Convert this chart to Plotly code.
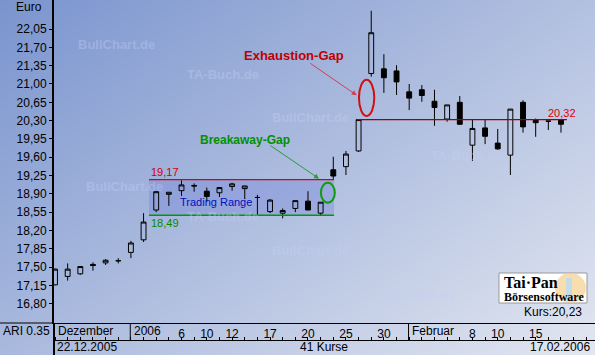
import base64, struct, zlib
import numpy as np
import plotly.graph_objects as go

# ---------------- data ----------------
dates = ["22.12.2005", "23.12.2005", "27.12.2005", "28.12.2005", "29.12.2005", "30.12.2005",
         "02.01.2006", "03.01.2006", "04.01.2006", "05.01.2006", "06.01.2006",
         "09.01.2006", "10.01.2006", "11.01.2006", "12.01.2006", "13.01.2006",
         "16.01.2006", "17.01.2006", "18.01.2006", "19.01.2006", "20.01.2006",
         "23.01.2006", "24.01.2006", "25.01.2006", "26.01.2006", "27.01.2006",
         "30.01.2006", "31.01.2006", "01.02.2006", "02.02.2006", "03.02.2006",
         "06.02.2006", "07.02.2006", "08.02.2006", "09.02.2006", "10.02.2006",
         "13.02.2006", "14.02.2006", "15.02.2006", "16.02.2006", "17.02.2006"]
open_ = [17.16, 17.32, 17.37, 17.55, 17.58, 17.62, 17.78, 18.02, 18.59, 18.89, 18.96,
         19.06, 18.95, 18.92, 19.04, 19.00, 18.83, 18.56, 18.53, 18.62, 18.76,
         18.53, 19.36, 19.42, 19.72, 21.20, 21.29, 21.25, 20.85, 20.89, 20.67,
         20.33, 20.65, 19.83, 20.16, 19.87, 19.64, 20.65, 20.31, 20.29, 20.31]
high = [17.47, 17.57, 17.52, 17.59, 17.65, 17.67, 18.00, 18.53, 18.95, 18.93, 19.16,
        19.10, 19.02, 19.03, 19.11, 19.05, 18.88, 18.80, 18.62, 18.77, 18.95,
        18.74, 19.61, 19.72, 20.32, 22.40, 21.57, 21.36, 21.00, 20.98, 20.89,
        20.60, 20.77, 20.33, 20.33, 20.14, 20.52, 20.69, 20.34, 20.29, 20.31]
low = [17.15, 17.24, 17.35, 17.43, 17.54, 17.57, 17.67, 17.98, 18.55, 18.67, 18.86,
       18.94, 18.75, 18.84, 18.96, 18.80, 18.48, 18.53, 18.43, 18.55, 18.59,
       18.49, 19.18, 19.26, 19.70, 21.14, 20.83, 20.79, 20.50, 20.66, 20.20,
       20.28, 20.22, 19.53, 19.85, 19.74, 19.26, 20.07, 19.99, 20.12, 20.07]
close = [17.46, 17.46, 17.51, 17.53, 17.63, 17.62, 17.96, 18.36, 18.94, 18.93, 19.07,
         19.05, 18.85, 19.02, 19.09, 19.05, 18.83, 18.78, 18.58, 18.77, 18.59,
         18.74, 19.24, 19.66, 20.32, 21.98, 21.12, 21.04, 20.73, 20.78, 20.55,
         20.60, 20.23, 20.15, 20.00, 19.76, 20.52, 20.18, 20.26, 20.29, 20.23]

y_ticks = [16.80, 17.15, 17.50, 17.85, 18.20, 18.55, 18.90, 19.25, 19.60, 19.95,
           20.30, 20.65, 21.00, 21.35, 21.70, 22.05]
day_labels = ["6", "10", "12", "17", "20", "25", "30", "8", "10", "15"]
day_label_dates = ["06.01.2006", "10.01.2006", "12.01.2006", "17.01.2006", "20.01.2006",
                   "25.01.2006", "30.01.2006", "08.02.2006", "10.02.2006", "15.02.2006"]
month_labels = ["Dezember", "2006", "Februar"]
month_start_dates = ["22.12.2005", "02.01.2006", "01.02.2006"]

range_high = 19.17
range_low = 18.49
range_first, range_last = "04.01.2006", "24.01.2006"
support_level = 20.32
breakaway_gap_after = "23.01.2006"
exhaustion_gap_after = "26.01.2006"
last_close = close[-1]

idx = list(range(len(dates)))
pos = {d: i for i, d in enumerate(dates)}

def fmt(v):
    return f"{v:.2f}".replace(".", ",")

# ---------------- geometry helpers (pixels -> paper) ----------------
W, H = 595, 355
ML, MR, MT, MB = 54, 0, 0, 15
PW, PH = W - ML - MR, H - MT - MB
PLOT_BOTTOM = 323

def px(x):
    return (x - ML) / PW

def py(y):
    return (H - MB - y) / PH

# ---------------- gradient background image ----------------
def gradient_png(w, h, c0, c1):
    xs = np.linspace(0, 1, w)[None, :]
    ys = np.linspace(0, 1, h)[:, None]
    t = (xs * 0.55 + ys * 0.45)
    img = np.zeros((h, w, 3), dtype=np.uint8)
    for k in range(3):
        img[:, :, k] = np.clip(np.round(c0[k] + (c1[k] - c0[k]) * t), 0, 255)
    raw = b"".join(b"\x00" + img[j].tobytes() for j in range(h))

    def chunk(tag, data):
        return struct.pack(">I", len(data)) + tag + data + struct.pack(">I", zlib.crc32(tag + data) & 0xffffffff)

    png = (b"\x89PNG\r\n\x1a\n" + chunk(b"IHDR", struct.pack(">IIBBBBB", w, h, 8, 2, 0, 0, 0))
           + chunk(b"IDAT", zlib.compress(raw, 9)) + chunk(b"IEND", b""))
    return "data:image/png;base64," + base64.b64encode(png).decode()

bg = gradient_png(W, H, (122, 148, 206), (226, 230, 240))

FONT = "Liberation Sans, Arial, sans-serif"

fig = go.Figure()
fig.add_trace(go.Candlestick(
    x=idx, open=open_, high=high, low=low, close=close,
    increasing=dict(line=dict(color="black", width=1), fillcolor="rgba(0,0,0,0)"),
    decreasing=dict(line=dict(color="black", width=1), fillcolor="black"),
    whiskerwidth=0, showlegend=False, hoverinfo="skip"))

x_range = [-0.08, 42.69]
y_range = [16.43, 22.606]

shapes = []
annotations = []

# trading range box
rx0 = pos[range_first] - 0.57
rx1 = pos[range_last] + 0.06
shapes.append(dict(type="rect", xref="x", yref="y", x0=rx0, x1=rx1, y0=range_low, y1=range_high,
                   fillcolor="rgba(105,120,215,0.33)", line=dict(width=0), layer="below"))
shapes.append(dict(type="line", xref="x", yref="y", x0=rx0, x1=rx1, y0=range_high, y1=range_high,
                   line=dict(color="#e00000", width=1.3)))
shapes.append(dict(type="line", xref="x", yref="y", x0=rx0, x1=rx1, y0=range_low, y1=range_low,
                   line=dict(color="#009a00", width=1.3)))
annotations.append(dict(x=rx0, y=range_high, xref="x", yref="y", text=fmt(range_high), showarrow=False,
                        xanchor="left", yanchor="bottom", xshift=0, yshift=0,
                        font=dict(family=FONT, size=11, color="#d00000")))
annotations.append(dict(x=rx0, y=range_low, xref="x", yref="y", text=fmt(range_low), showarrow=False,
                        xanchor="left", yanchor="top", xshift=0, yshift=0,
                        font=dict(family=FONT, size=11, color="#008a00")))
annotations.append(dict(x=rx0 + 2.3, y=(range_high + range_low) / 2 - 0.08, xref="x", yref="y",
                        text="Trading Range", showarrow=False, xanchor="left", yanchor="middle",
                        font=dict(family=FONT, size=11, color="#0010c0")))

# support line at 20.32
sx0 = pos[exhaustion_gap_after] - 0.15
sx1 = len(dates) - 1 + 0.47
shapes.append(dict(type="line", xref="x", yref="y", x0=sx0, x1=sx1, y0=support_level, y1=support_level,
                   line=dict(color="#a00000", width=1.2)))
annotations.append(dict(x=sx1 + 0.9, y=support_level, xref="x", yref="y", text=fmt(support_level),
                        showarrow=False, xanchor="right", yanchor="bottom", yshift=-1,
                        font=dict(family=FONT, size=11, color="#e00000")))

# gap ellipses
gi = pos[breakaway_gap_after]
g_y0, g_y1 = high[gi] - 0.01, low[gi + 1] - 0.07
shapes.append(dict(type="circle", xref="x", yref="y", x0=gi + 0.02, x1=gi + 1.12, y0=g_y0, y1=g_y1,
                   line=dict(color="#109a10", width=2)))
ei = pos[exhaustion_gap_after]
e_y0, e_y1 = close[ei] + 0.07, low[ei + 1] - 0.06
shapes.append(dict(type="circle", xref="x", yref="y", x0=ei + 0.03, x1=ei + 1.24, y0=e_y0, y1=e_y1,
                   line=dict(color="#d01010", width=2)))

# arrows and gap labels
annotations.append(dict(x=gi - 0.13, y=range_high + 0.02, xref="x", yref="y", ax=-50, ay=-34,
                        text="", showarrow=True, arrowhead=2, arrowsize=1, arrowwidth=1,
                        arrowcolor="#2a9a3a"))
annotations.append(dict(x=ei - 0.15, y=(e_y0 + e_y1) / 2 + 0.05, xref="x", yref="y", ax=-48, ay=-33,
                        text="", showarrow=True, arrowhead=2, arrowsize=1, arrowwidth=1,
                        arrowcolor="#d04050"))
annotations.append(dict(x=px(245), y=py(140), xref="paper", yref="paper", text="<b>Breakaway-Gap</b>",
                        showarrow=False, font=dict(family=FONT, size=12, color="#009000")))
annotations.append(dict(x=px(294), y=py(46), xref="paper", yref="paper", text="<b>Exhaustion-Gap</b>",
                        showarrow=False, font=dict(family=FONT, size=13, color="#c00000")))

# watermarks
wm_color = "rgba(195,208,245,0.38)"
for (t, x, y) in [("BullChart.de", 76, 35), ("TA-Buch.de", 185, 65), ("BullChart.de", 310, 108),
                  ("TA-Buch.de", 505, 155), ("BullChart.de", 84, 186), ("TA-Buch.de", 185, 216),
                  ("BullChart.de", 310, 260), ("TA-Buch.de", 458, 305)]:
    annotations.append(dict(x=px(x), y=py(y), xref="paper", yref="paper", text="<b>" + t + "</b>",
                            showarrow=False, font=dict(family=FONT, size=13, color=wm_color)))

# axis lines extension & bottom frame
shapes.append(dict(type="line", xref="paper", yref="paper", x0=0, x1=0, y0=py(H), y1=py(PLOT_BOTTOM),
                   line=dict(color="black", width=2)))
shapes.append(dict(type="line", xref="paper", yref="paper", x0=px(0), x1=0, y0=py(PLOT_BOTTOM),
                   y1=py(PLOT_BOTTOM), line=dict(color="black", width=1)))
for d in month_start_dates[1:]:
    shapes.append(dict(type="line", xref="x", yref="paper", x0=pos[d] - 0.05, x1=pos[d] - 0.05,
                       y0=py(340), y1=py(PLOT_BOTTOM), line=dict(color="black", width=1)))
for lab, d in zip(month_labels, month_start_dates):
    annotations.append(dict(x=pos[d], y=py(331), xref="x", yref="paper", text=lab, showarrow=False,
                            xanchor="left", yanchor="middle", xshift=1,
                            font=dict(family=FONT, size=12, color="black")))

# footer texts
annotations.append(dict(x=px(1), y=py(331), xref="paper", yref="paper", text="ARI 0.35", showarrow=False,
                        xanchor="left", yanchor="middle", font=dict(family=FONT, size=12, color="black")))
annotations.append(dict(x=0, y=py(347), xref="x", yref="paper", text=dates[0], showarrow=False,
                        xanchor="left", yanchor="middle", font=dict(family=FONT, size=12, color="black")))
annotations.append(dict(x=px(324), y=py(347), xref="paper", yref="paper", text=f"{len(dates)} Kurse",
                        showarrow=False, xanchor="center", yanchor="middle",
                        font=dict(family=FONT, size=12, color="black")))
annotations.append(dict(x=px(592), y=py(347), xref="paper", yref="paper", text=dates[-1], showarrow=False,
                        xanchor="right", yanchor="middle", font=dict(family=FONT, size=12, color="black")))
annotations.append(dict(x=px(14), y=py(7), xref="paper", yref="paper", text="Euro", showarrow=False,
                        xanchor="left", yanchor="middle", font=dict(family=FONT, size=12, color="black")))
annotations.append(dict(x=px(584), y=py(312), xref="paper", yref="paper", text=f"Kurs:{fmt(last_close)}",
                        showarrow=False, xanchor="right", yanchor="middle",
                        font=dict(family=FONT, size=12, color="black")))

# Tai-Pan logo
shapes.append(dict(type="rect", xref="paper", yref="paper", x0=px(499), x1=px(587), y0=py(303), y1=py(273),
                   fillcolor="white", line=dict(color="#999999", width=1)))
shapes.append(dict(type="circle", xref="paper", yref="paper", x0=px(555), x1=px(586), y0=py(303), y1=py(273),
                   fillcolor="rgba(245,208,140,0.7)", line=dict(width=0)))
shapes.append(dict(type="rect", xref="paper", yref="paper", x0=px(566), x1=px(572), y0=py(301), y1=py(278),
                   fillcolor="rgba(190,220,235,0.9)", line=dict(width=0)))
annotations.append(dict(x=px(502), y=py(282), xref="paper", yref="paper", text="<b>Tai·Pan</b>",
                        showarrow=False, xanchor="left", yanchor="middle",
                        font=dict(family="Liberation Serif, serif", size=16, color="black")))
annotations.append(dict(x=px(502), y=py(297), xref="paper", yref="paper", text="<b>Börsensoftware</b>",
                        showarrow=False, xanchor="left", yanchor="middle",
                        font=dict(family="Liberation Serif, serif", size=12, color="black")))

fig.update_layout(
    width=W, height=H,
    margin=dict(l=ML, r=MR, t=MT, b=MB, pad=0),
    paper_bgcolor="#b0bfe0", plot_bgcolor="rgba(0,0,0,0)",
    separators=",.",
    boxgap=0.45, boxgroupgap=0.3,
    showlegend=False,
    images=[dict(source=bg, xref="paper", yref="paper", x=px(0), y=py(0), sizex=W / PW, sizey=H / PH,
                 xanchor="left", yanchor="top", sizing="stretch", layer="below")],
    xaxis=dict(range=x_range, rangeslider=dict(visible=False), showgrid=False, zeroline=False,
               showline=True, linecolor="black", linewidth=1, ticks="",
               tickvals=[pos[d] for d in day_label_dates], ticktext=day_labels,
               tickfont=dict(family=FONT, size=12, color="black")),
    xaxis2=dict(range=x_range, overlaying="x", anchor="free", position=0, side="bottom",
                showgrid=False, zeroline=False, showline=True, linecolor="black", linewidth=1,
                ticks="inside", ticklen=3, tickcolor="black", tickmode="linear", tick0=0, dtick=1,
                showticklabels=False),
    yaxis=dict(range=y_range, domain=[py(PLOT_BOTTOM), 1], showgrid=False, zeroline=False,
               showline=True, linecolor="black", linewidth=2, ticks="outside", ticklen=3,
               tickcolor="black", tickvals=y_ticks, ticktext=[fmt(v) for v in y_ticks],
               tickfont=dict(family=FONT, size=12, color="black")),
    shapes=shapes, annotations=annotations,
)
# dummy trace to activate xaxis2
fig.add_trace(go.Scatter(x=[None], y=[None], xaxis="x2", yaxis="y", showlegend=False, hoverinfo="skip"))

fig.write_html("out.html")
